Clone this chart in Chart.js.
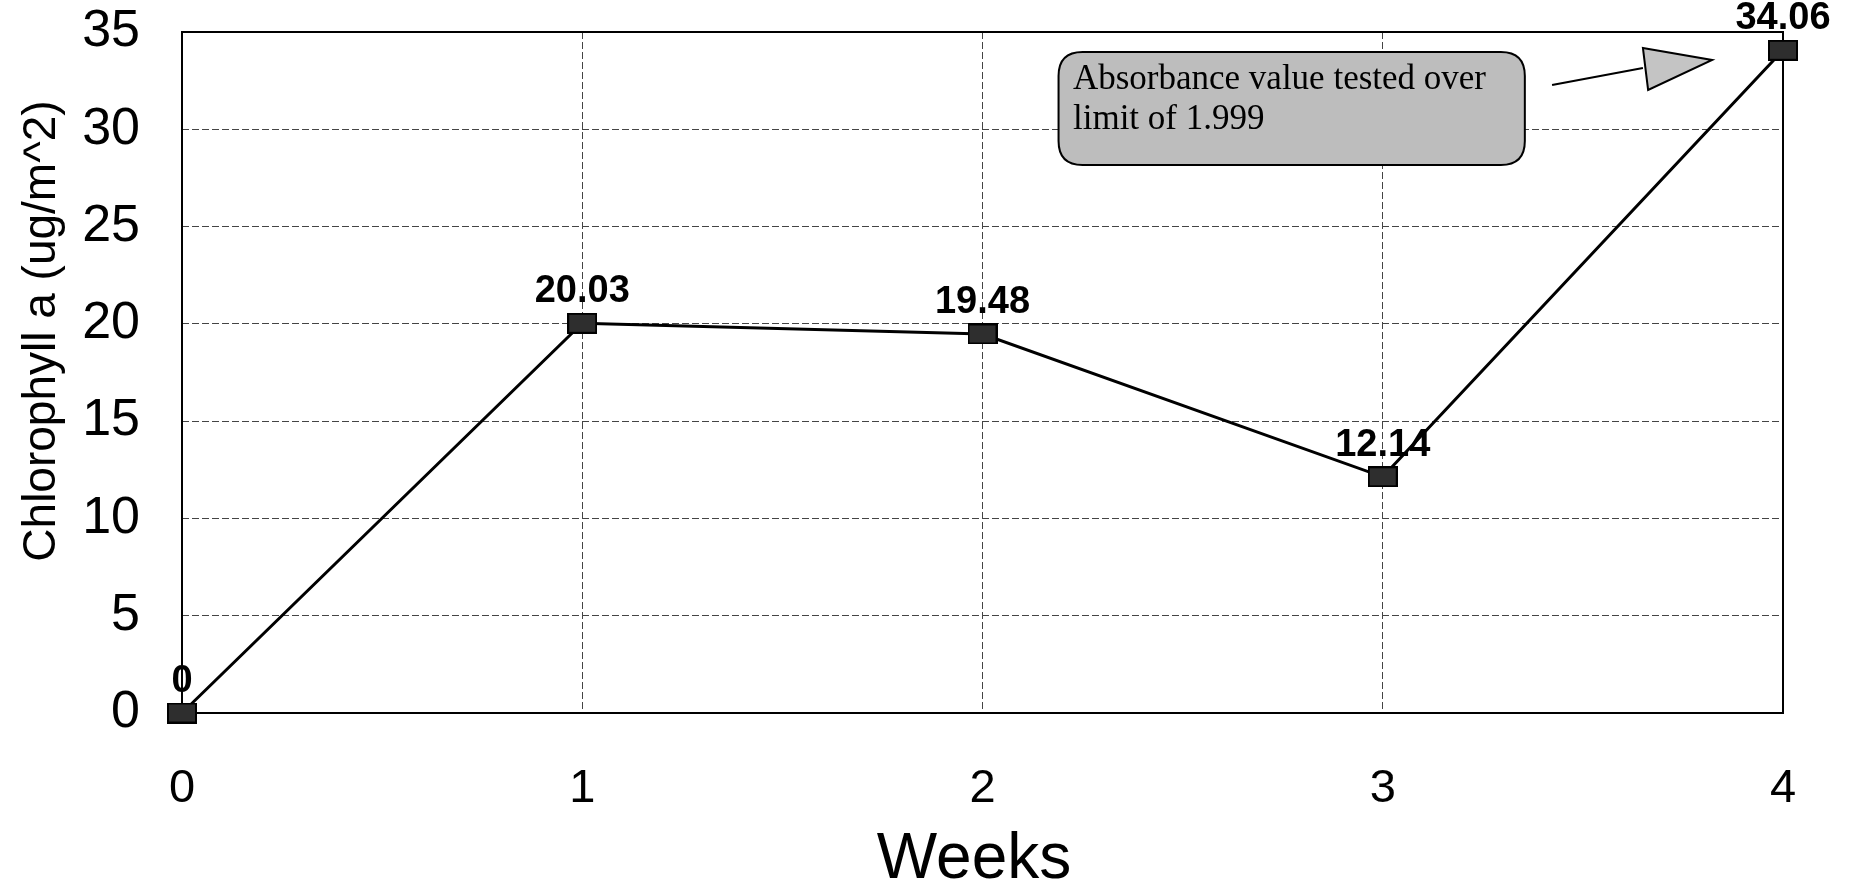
<!DOCTYPE html>
<html>
<head>
<meta charset="utf-8">
<script src="https://cdn.jsdelivr.net/npm/chart.js@4.4.1/dist/chart.umd.min.js"></script>
<style>
  html, body { margin: 0; padding: 0; background: #fff; }
  #wrap { width: 1856px; height: 884px; }
</style>
</head>
<body>
<div id="wrap"><canvas id="chart" width="1856" height="884"></canvas></div>
<script>
const weeks = [0, 1, 2, 3, 4];
const chlorophyll = [0, 20.03, 19.48, 12.14, 34.06];
const yTicks = [0, 5, 10, 15, 20, 25, 30, 35];
const xTitle = 'Weeks';
const yTitle = 'Chlorophyll a (ug/m^2)';
const noteLines = ['Absorbance value tested over', 'limit of 1.999'];

const SANS = '"Liberation Sans", Arial, sans-serif';
const SERIF = '"Liberation Serif", "Times New Roman", serif';

// square-ish marker like the scanned original
const marker = document.createElement('canvas');
marker.width = 30;
marker.height = 21;
(function () {
  const m = marker.getContext('2d');
  m.fillStyle = '#2e2e2e';
  m.fillRect(0, 0, 30, 21);
  m.strokeStyle = '#000';
  m.lineWidth = 2;
  m.strokeRect(1, 1, 28, 19);
})();

function roundRect(ctx, x, y, w, h, r) {
  ctx.beginPath();
  ctx.moveTo(x + r, y);
  ctx.lineTo(x + w - r, y);
  ctx.quadraticCurveTo(x + w, y, x + w, y + r);
  ctx.lineTo(x + w, y + h - r);
  ctx.quadraticCurveTo(x + w, y + h, x + w - r, y + h);
  ctx.lineTo(x + r, y + h);
  ctx.quadraticCurveTo(x, y + h, x, y + h - r);
  ctx.lineTo(x, y + r);
  ctx.quadraticCurveTo(x, y, x + r, y);
  ctx.closePath();
}

const extras = {
  id: 'extras',
  beforeDatasetsDraw(chart) {
    const { ctx, chartArea: a } = chart;
    ctx.save();
    ctx.strokeStyle = '#000';
    ctx.lineWidth = 2;
    ctx.strokeRect(a.left, a.top, a.right - a.left, a.bottom - a.top);
    ctx.restore();
  },
  afterDatasetsDraw(chart) {
    const { ctx, scales } = chart;
    const xs = scales.x, ys = scales.y;
    const px = v => xs.getPixelForValue(v);
    const py = v => ys.getPixelForValue(v);

    // value labels
    const meta = chart.getDatasetMeta(0);
    ctx.save();
    ctx.font = 'bold 38px ' + SANS;
    ctx.fillStyle = '#000';
    ctx.textAlign = 'center';
    ctx.textBaseline = 'alphabetic';
    meta.data.forEach((pt, i) => {
      const v = chlorophyll[i];
      ctx.fillText(v === 0 ? '0' : v.toFixed(2), pt.x, pt.y - 21);
    });
    ctx.restore();

    // note box (positioned in data units)
    const bx0 = px(2.19), bx1 = px(3.355), by0 = py(33.97), by1 = py(28.16);
    ctx.save();
    roundRect(ctx, bx0, by0, bx1 - bx0, by1 - by0, 24);
    ctx.fillStyle = '#bdbdbd';
    ctx.fill();
    ctx.strokeStyle = '#000';
    ctx.lineWidth = 2;
    ctx.stroke();
    ctx.fillStyle = '#000';
    ctx.font = '35px ' + SERIF;
    ctx.textAlign = 'left';
    ctx.textBaseline = 'alphabetic';
    ctx.fillText(noteLines[0], px(2.226), py(32.07));
    ctx.fillText(noteLines[1], px(2.226), py(30.0));

    // arrow
    ctx.beginPath();
    ctx.moveTo(px(3.423), py(32.28));
    ctx.lineTo(px(3.65), py(33.15));
    ctx.lineWidth = 2;
    ctx.stroke();
    ctx.beginPath();
    ctx.moveTo(px(3.65), py(34.18));
    ctx.lineTo(px(3.823), py(33.56));
    ctx.lineTo(px(3.663), py(32.02));
    ctx.closePath();
    ctx.fillStyle = '#c4c4c4';
    ctx.fill();
    ctx.stroke();
    ctx.restore();
  },
  afterDraw(chart) {
    const { ctx } = chart;
    ctx.save();
    ctx.fillStyle = '#000';
    ctx.textAlign = 'center';
    ctx.textBaseline = 'alphabetic';
    ctx.font = '64px ' + SANS;
    ctx.fillText(xTitle, 974, 878);
    ctx.translate(55, 331);
    ctx.rotate(-Math.PI / 2);
    ctx.font = '46px ' + SANS;
    ctx.fillText(yTitle, 0, 0);
    ctx.restore();
  }
};

new Chart(document.getElementById('chart'), {
  type: 'line',
  data: {
    labels: weeks,
    datasets: [{
      data: chlorophyll,
      borderColor: '#000',
      borderWidth: 3,
      tension: 0,
      pointStyle: marker,
      pointRadius: 15,
      clip: false
    }]
  },
  options: {
    responsive: false,
    animation: false,
    layout: { padding: { top: 32, right: 73, bottom: 0, left: 0 } },
    plugins: { legend: { display: false }, tooltip: { enabled: false } },
    scales: {
      x: {
        type: 'category',
        offset: false,
        afterFit: s => { s.height = 171; s.paddingLeft = 0; s.paddingRight = 0; },
        grid: { color: '#444', lineWidth: 1, drawTicks: false },
        border: { display: false, dash: [7, 3] },
        ticks: { color: '#000', font: { family: SANS, size: 47 }, padding: 48, maxRotation: 0 }
      },
      y: {
        min: 0,
        max: 35,
        afterFit: s => { s.width = 182; s.paddingTop = 0; s.paddingBottom = 0; },
        afterBuildTicks: s => { s.ticks = yTicks.map(v => ({ value: v })); },
        grid: { color: '#444', lineWidth: 1, drawTicks: false },
        border: { display: false, dash: [7, 3] },
        ticks: { color: '#000', font: { family: SANS, size: 52 }, padding: 42 }
      }
    }
  },
  plugins: [extras]
});
</script>
</body>
</html>
